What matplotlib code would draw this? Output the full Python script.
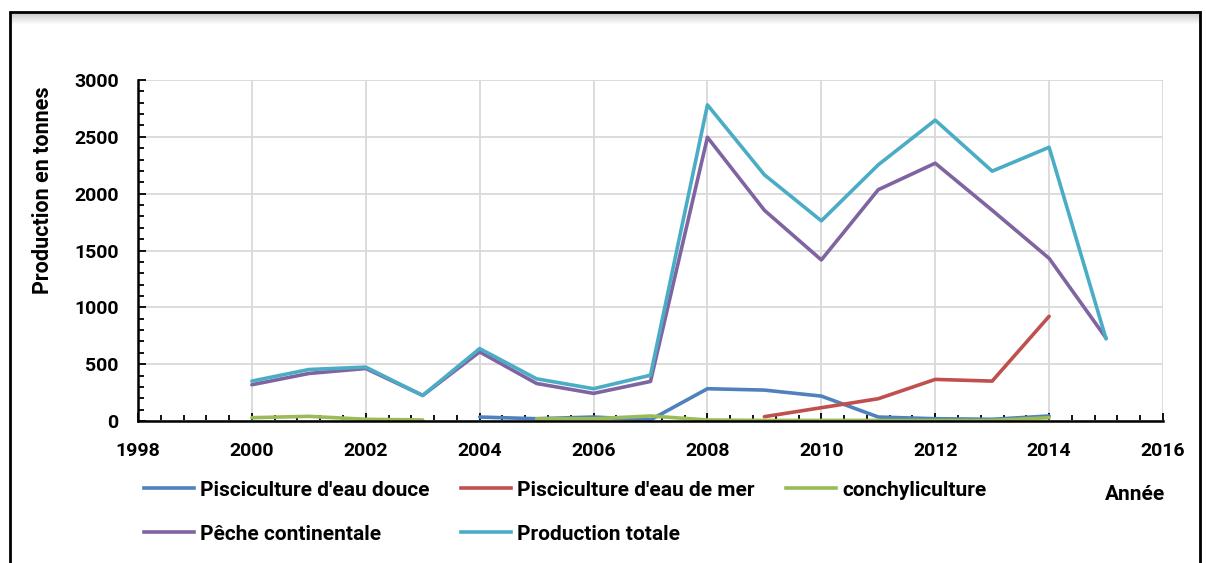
import numpy as np
import matplotlib
matplotlib.use("Agg")
import matplotlib.pyplot as plt
from matplotlib.ticker import MultipleLocator
from matplotlib.lines import Line2D

plt.rcParams['font.family'] = ['Roboto', 'DejaVu Sans']
plt.rcParams['font.weight'] = 'bold'

nan = np.nan
years = list(range(2000, 2016))

eau_douce = [nan, nan, nan, nan, 35, 20, 35, 10, 284, 272, 219, 35, 20, 15, 44, nan]
eau_mer = [nan, nan, nan, nan, nan, nan, nan, nan, nan, 38, 117, 196, 366, 351, 921, nan]
conchy = [29, 41, 15, 9, nan, 20, 20, 44, 9, 5, 5, 5, 5, 5, 29, nan]
peche = [319, 418, 462, 225, 608, 330, 243, 348, 2496, 1854, 1417, 2035, 2268, 1854, 1431, 730]
totale = [351, 453, 474, 225, 637, 371, 284, 403, 2781, 2166, 1761, 2254, 2647, 2198, 2408, 722]

labels = ["Pisciculture d'eau douce", "Pisciculture d'eau de mer", "conchyliculture",
          "Pêche continentale", "Production totale"]
colors = ['#4F81BD', '#C0504D', '#9BBB59', '#8064A2', '#4BACC6']
series = [eau_douce, eau_mer, conchy, peche, totale]

fig = plt.figure(figsize=(12.06, 5.63), dpi=100)
ax = fig.add_axes([138/1206, 1-421/563, (1163-138)/1206, (421-80)/563])

for vals, c in zip(series, colors):
    ax.plot(years, vals, color=c, lw=2.6, solid_capstyle='round')

ax.set_xlim(1998, 2016)
ax.set_ylim(0, 3000)
ax.xaxis.set_major_locator(MultipleLocator(2))
ax.xaxis.set_minor_locator(MultipleLocator(0.4))
ax.yaxis.set_major_locator(MultipleLocator(500))
ax.yaxis.set_minor_locator(MultipleLocator(100))
ax.grid(True, which='major', color='#D9D9D9', lw=1.3)
ax.set_axisbelow(True)
for s in ['top', 'right']:
    ax.spines[s].set_visible(False)
for s in ['left', 'bottom']:
    ax.spines[s].set_linewidth(1.8)
ax.tick_params(which='both', direction='in', width=1.3, labelsize=14)
ax.tick_params(which='major', length=6)
ax.tick_params(which='minor', length=4)
ax.tick_params(axis='x', which='major', pad=15)
ax.tick_params(axis='y', which='major', pad=14)
for t in ax.get_xticklabels() + ax.get_yticklabels():
    t.set_fontweight('bold')

fig.text(43/1206, 1-190/563, 'Production en tonnes', rotation=90, ha='center', va='center',
         fontsize=15.5, fontweight='bold')
fig.text(1135/1206, 1-494/563, 'Année', ha='center', va='center', fontsize=15, fontweight='bold')

handles = [Line2D([], [], color=c, lw=2.6) for c in colors]
order = [0, 3, 1, 4, 2]
fig.legend([handles[i] for i in order], [labels[i] for i in order], ncol=3,
           loc='upper left', bbox_to_anchor=(125/1206, 1-462/563), frameon=False,
           prop={'weight': 'bold', 'size': 15}, handlelength=2.4, handletextpad=0.3,
           columnspacing=1.5, labelspacing=1.2)

# cadre avec ombre
fig.add_artist(plt.Rectangle((10/1206, -0.05), (1200-10)/1206, 1.05-12/563,
                             transform=fig.transFigure, fill=False, ec='black', lw=2))
for i in range(1, 12):
    fig.add_artist(Line2D([11/1206, 1199/1206], [1-(12+i)/563]*2, transform=fig.transFigure,
                          color='black', alpha=0.16*(1-i/12), lw=1))

fig.savefig('out.png', dpi=100)
